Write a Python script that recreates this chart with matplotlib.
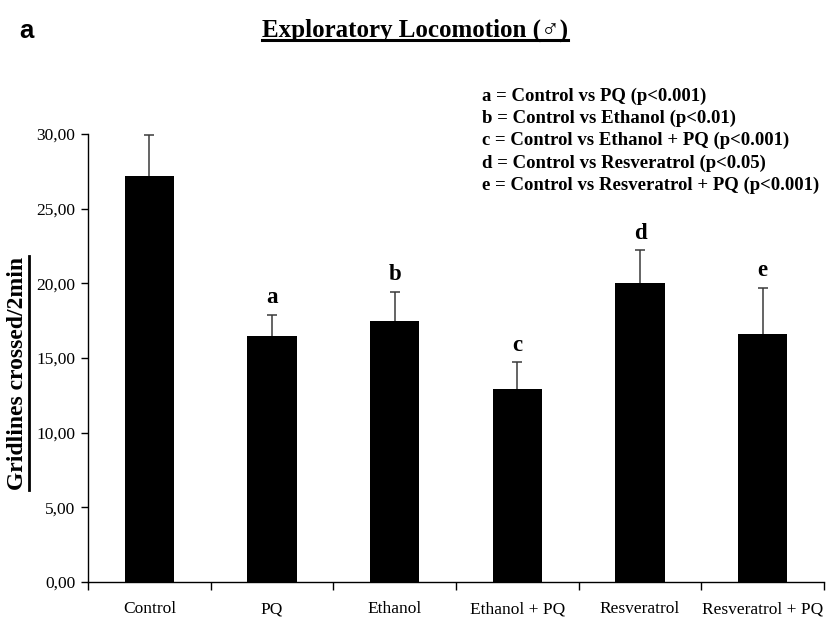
import matplotlib
matplotlib.use("Agg")
import matplotlib.pyplot as plt
from matplotlib.ticker import FixedLocator, FuncFormatter
from matplotlib.lines import Line2D

categories = ["Control", "PQ", "Ethanol", "Ethanol + PQ", "Resveratrol", "Resveratrol + PQ"]
means = [27.2, 16.5, 17.5, 12.9, 20.0, 16.6]
errors = [2.7, 1.4, 1.9, 1.8, 2.2, 3.1]
sig_letters = ["", "a", "b", "c", "d", "e"]
legend_lines = [
    "a = Control vs PQ (p<0.001)",
    "b = Control vs Ethanol (p<0.01)",
    "c = Control vs Ethanol + PQ (p<0.001)",
    "d = Control vs Resveratrol (p<0.05)",
    "e = Control vs Resveratrol + PQ (p<0.001)",
]
y_ticks = [0, 5, 10, 15, 20, 25, 30]

serif = ["Liberation Serif", "DejaVu Serif"]
W, H = 829, 628
fig = plt.figure(figsize=(W / 100, H / 100), dpi=100)
ax = fig.add_axes([88 / W, 1 - 582 / H, (824 - 88) / W, (582 - 134) / H])

x = list(range(len(categories)))
ax.bar(x, means, width=0.4, color="black", zorder=2)
_, caps, _ = ax.errorbar(x, means, yerr=[[0] * len(errors), errors], fmt="none",
                         ecolor="#3a3a3a", elinewidth=1.1, capsize=3.5,
                         capthick=1.1, zorder=3)
caps[0].set_visible(False)  # upper error only

for xi, m, e, s in zip(x, means, errors, sig_letters):
    if s:
        ax.annotate(s, (xi, m + e), xytext=(0, 5), textcoords="offset points",
                    ha="center", va="bottom", fontsize=16.5, fontweight="bold",
                    family=serif)

ax.set_xlim(-0.5, len(categories) - 0.5)
ax.set_ylim(0, 30)
ax.spines["top"].set_visible(False)
ax.spines["right"].set_visible(False)
for sp in ("left", "bottom"):
    ax.spines[sp].set_linewidth(1.0)
    ax.spines[sp].set_color("black")

ax.yaxis.set_major_locator(FixedLocator(y_ticks))
ax.yaxis.set_major_formatter(FuncFormatter(lambda v, p: f"{v:.2f}".replace(".", ",")))
ax.tick_params(axis="y", direction="out", length=5, width=1, pad=4,
               labelsize=12.5, labelfontfamily=serif)

ax.set_xticks(x)
ax.set_xticklabels(categories)
ax.tick_params(axis="x", which="major", length=0, pad=14, labelsize=12.5,
               labelfontfamily=serif)
ax.xaxis.set_minor_locator(FixedLocator([i - 0.5 for i in range(len(categories) + 1)]))
ax.tick_params(axis="x", which="minor", direction="out", length=6, width=1)

# y-axis label (bold, underlined)
ylab = fig.text(18 / W, 1 - 373 / H, "Gridlines crossed/2min", rotation=90,
                ha="center", va="center", fontsize=17, fontweight="bold", family=serif)

# title (bold, underlined)
title = fig.text(415 / W, 1 - 30 / H, "Exploratory Locomotion (\u2642)",
                 ha="center", va="center", fontsize=18, fontweight="bold", family=serif)

# panel letter
fig.text(19 / W, 1 - 31 / H, "a", ha="left", va="center", fontsize=18.5,
         fontweight="bold", family=["Liberation Sans", "DejaVu Sans"])

# significance key
for i, line in enumerate(legend_lines):
    fig.text(482 / W, 1 - (96 + 22.3 * i) / H, line, ha="left", va="center",
             fontsize=13.5, fontweight="bold", family=serif)

# underline title and y label
fig.canvas.draw()
renderer = fig.canvas.get_renderer()
inv = fig.transFigure.inverted()
bb = title.get_window_extent(renderer)
(x0, y0), (x1, y1) = inv.transform([[bb.x0, bb.y0], [bb.x1, bb.y1]])
fig.add_artist(Line2D([x0, x1], [y0 + 0.002, y0 + 0.002], transform=fig.transFigure,
                      color="black", linewidth=2.2))
bb = ylab.get_window_extent(renderer)
(x0, y0), (x1, y1) = inv.transform([[bb.x0, bb.y0], [bb.x1, bb.y1]])
fig.add_artist(Line2D([x1 + 0.001, x1 + 0.001], [y0, y1], transform=fig.transFigure,
                      color="black", linewidth=2.0))

fig.savefig("out.png", dpi=100, facecolor="white")
